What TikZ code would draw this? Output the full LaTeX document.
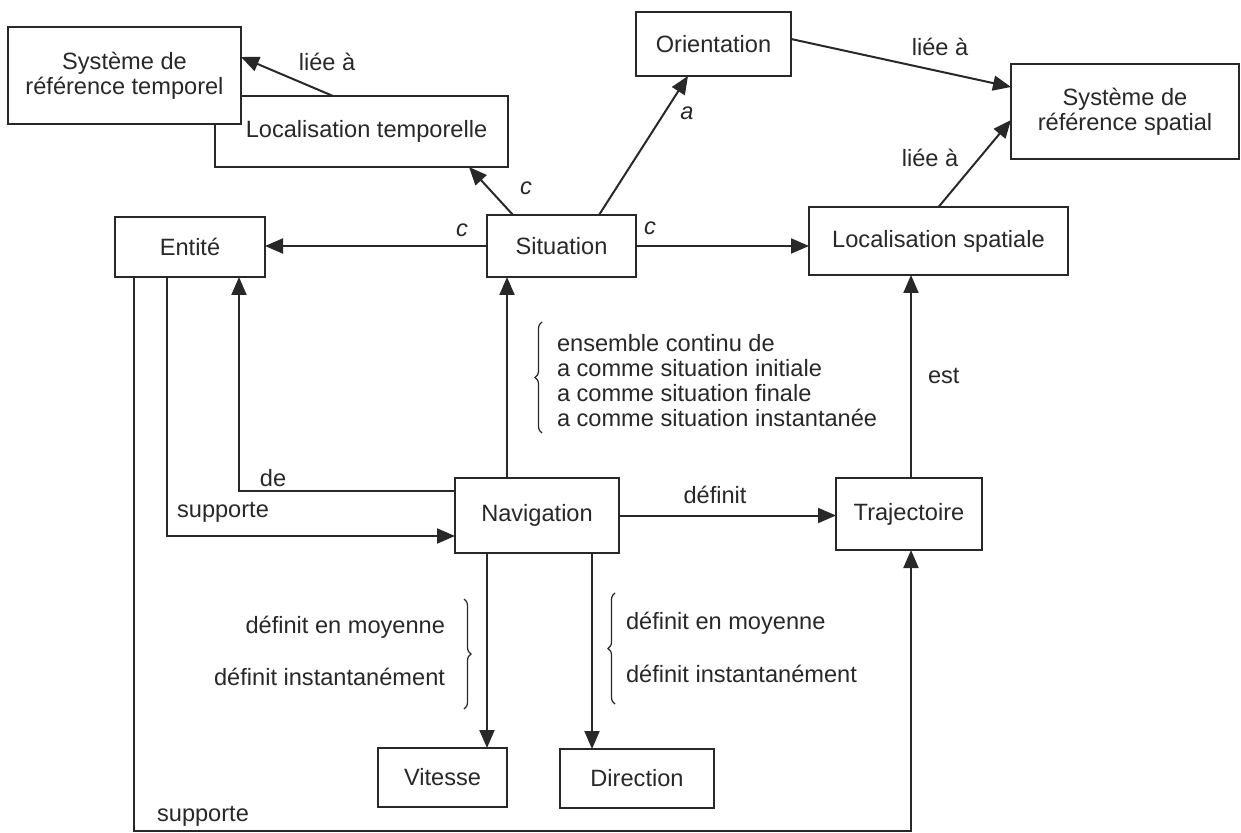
\documentclass[tikz,border=0pt]{standalone}
\usepackage{fontspec}
\setmainfont{Liberation Sans}
\usetikzlibrary{arrows.meta,decorations.pathreplacing,calc}
\definecolor{ink}{RGB}{40,40,40}
\begin{document}
\begin{tikzpicture}[x=0.5pt,y=-0.5pt,
  font=\fontsize{11.8}{12.5}\selectfont, color=ink,
  box/.style={draw=ink, line width=1pt, fill=white, inner sep=0pt, outer sep=0pt, align=center},
  sz/.style 2 args={minimum width=#1*0.5pt, minimum height=#2*0.5pt},
  arr/.style={draw=ink, line width=1pt, -{Triangle[length=9pt,width=7.5pt]}},
  lbl/.style={inner sep=0pt, outer sep=0pt},
  brc/.style={draw=ink, decorate, decoration={brace, amplitude=3.5pt}, line width=0.6pt}]
\useasboundingbox (0,0) rectangle (1241,833);

% boxes
\node[box, sz={293}{71}] (lt) at (361.5,131.5) {\hspace*{5pt}Localisation temporelle};
\node[box, sz={233}{97}] (srt) at (124.5,75.5) {Système de\\référence temporel};
\node[box, sz={155}{64}] (ori) at (713.5,44) {Orientation};
\node[box, sz={228}{95}] (srs) at (1125,111.5) {Système de\\référence spatial};
\node[box, sz={150}{60}] (ent) at (190,247) {Entité};
\node[box, sz={149}{62}] (sit) at (561.5,246) {Situation};
\node[box, sz={259}{68}] (locsp) at (938.5,241) {Localisation spatiale};
\node[box, sz={164}{75}] (nav) at (537,515.5) {Navigation};
\node[box, sz={146}{72}] (traj) at (909,514) {Trajectoire};
\node[box, sz={129}{59}] (vit) at (442.5,777.5) {Vitesse};
\node[box, sz={154}{59}] (dir) at (637,778.5) {Direction};

\coordinate (bottom) at (0,831);

% connectors
\draw[arr] ([xshift=59pt]lt.north west) -- ([yshift=9.25pt]srt.east);
\draw[arr] ([xshift=13pt]sit.north west) -- ([xshift=127pt]lt.south west);
\draw[arr] ([xshift=56pt]sit.north west) -- ([xshift=26pt]ori.south west);
\draw[arr] ([yshift=2.5pt]ori.east) -- ([yshift=12.25pt]srs.west);
\draw[arr] (locsp.north) -- ([yshift=-4.25pt]srs.west);
\draw[arr] (sit.west) -- (sit.west -| ent.east);
\draw[arr] (sit.east) -- (sit.east -| locsp.west);
\draw[arr] ([xshift=26pt]nav.north west) coordinate (n1) -- (n1 |- sit.south);
\draw[arr] ([yshift=12.25pt]nav.west) -| ([xshift=62pt]ent.south west);
\draw[arr] ([xshift=26pt]ent.south west) |- ([yshift=-10.25pt]nav.west);
\draw[arr] ([xshift=9.5pt]ent.south west) coordinate (e1) -- (e1 |- bottom) -| ([xshift=1pt]traj.south);
\draw[arr] (nav.east) -- (nav.east -| traj.west);
\draw[arr] ([xshift=1pt]traj.north) coordinate (t2) -- (t2 |- locsp.south);
\draw[arr] ([xshift=16pt]nav.south west) coordinate (n2) -- (n2 |- vit.north);
\draw[arr] ([xshift=68.5pt]nav.south west) coordinate (n3) -- (n3 |- dir.north);

% labels
\node[lbl] (l1) at (327,62) {liée à};
\node[lbl] (l2) at (526,188) {\itshape c};
\node[lbl] (l3) at (687,113) {\itshape a};
\node[lbl] (l4) at (940,47) {liée à};
\node[lbl] (l5) at (930,158) {liée à};
\node[lbl] (l6) at (462,230) {\itshape c};
\node[lbl] (l7) at (650,228) {\itshape c};
\node[lbl] (l8) at (273,478) {de};
\node[lbl] (l9) at (223,512) {supporte};
\node[lbl] (l10) at (203,816) {supporte};
\node[lbl] (l11) at (715,495) {définit};
\node[lbl, anchor=west] (l12) at (928,376) {est};

% braces and their texts
\draw[brc] (542,433) -- (542,322);
\node[lbl, anchor=west, align=left] (t0) at (557,380.5)
  {ensemble continu de\\a comme situation initiale\\a comme situation finale\\a comme situation instantanée};
\draw[brc] (464,599) -- (464,709);
\node[lbl, anchor=east, align=right, font=\fontsize{11.8}{26}\selectfont] (t1) at (445,651)
  {définit en moyenne\\définit instantanément};
\draw[brc] (615,704) -- (615,593);
\node[lbl, anchor=west, align=left, font=\fontsize{11.8}{26.5}\selectfont] (t2) at (626,647.5)
  {définit en moyenne\\définit instantanément};
\end{tikzpicture}
\end{document}
